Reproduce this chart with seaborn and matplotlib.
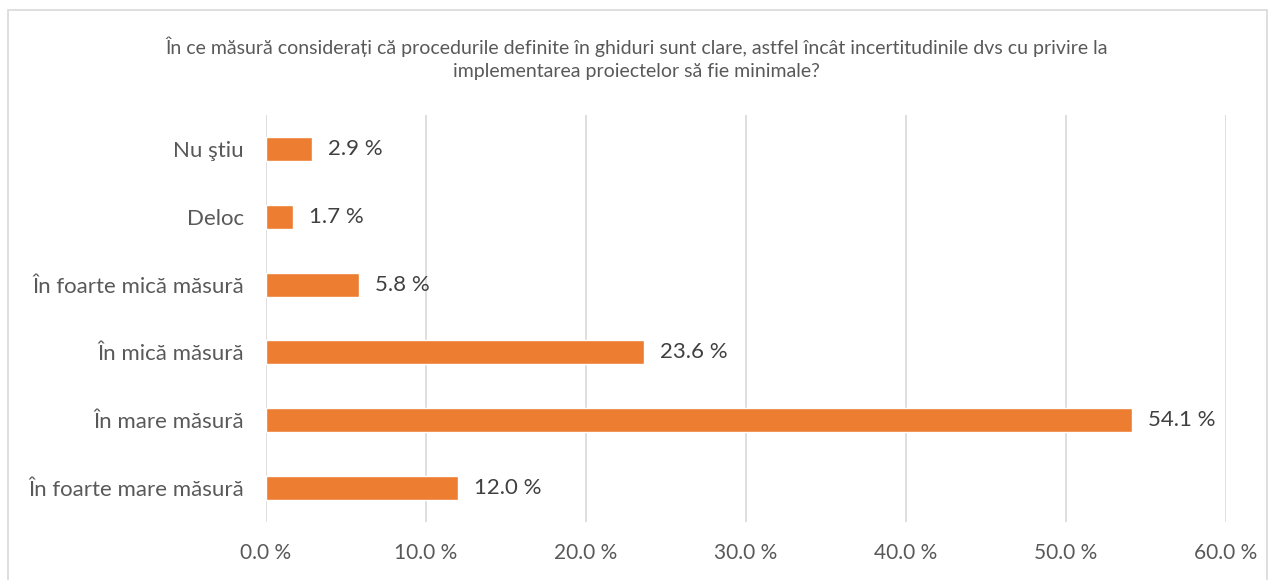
import pandas as pd
import seaborn as sns
import matplotlib.pyplot as plt
from matplotlib.patches import Rectangle

categories = ["Nu ştiu", "Deloc", "În foarte mică măsură", "În mică măsură",
              "În mare măsură", "În foarte mare măsură"]
values = [2.9, 1.7, 5.8, 23.6, 54.1, 12.0]
xticks = [0, 10, 20, 30, 40, 50, 60]

title = ("În ce măsură considerați că procedurile definite în ghiduri sunt clare, astfel încât incertitudinile dvs cu privire la\n"
         "implementarea proiectelor să fie minimale?")

sns.set_style("white")
plt.rcParams['font.family'] = ['Lato', 'DejaVu Sans']
text_col = '#595959'

df = pd.DataFrame({'cat': categories, 'val': values})

fig = plt.figure(figsize=(12.73, 5.80), dpi=100)
ax = fig.add_axes([266 / 1273, 1 - 522 / 580, 960 / 1273, 407 / 580])

sns.barplot(data=df, x='val', y='cat', color='#ED7D31', width=0.355,
            saturation=1, ax=ax, zorder=3)

ax.set_xlim(0, 60)
ax.set_xticks(xticks)
ax.set_xticklabels([f"{t:.1f} %" for t in xticks], fontsize=15, color=text_col)
ax.tick_params(axis='x', length=0, pad=15)
ax.tick_params(axis='y', length=0, pad=16, labelsize=16, labelcolor=text_col)
ax.grid(axis='x', color='#D9D9D9', linewidth=1.2, zorder=0)
ax.set_axisbelow(True)
for s in ax.spines.values():
    s.set_visible(False)
ax.set_xlabel('')
ax.set_ylabel('')

# value labels next to the bars
for i, v in enumerate(values):
    ax.text(v + 1.0, i, f"{v:.1f} %", va='center', ha='left', fontsize=16, color='#404040')

fig.text(0.5, 1 - 58 / 580, title, ha='center', va='center', fontsize=14,
         color=text_col, linespacing=1.45)

fig.patches.append(Rectangle((8 / 1273, -0.01), 1259 / 1273, 1 - 10 / 580 + 0.01,
                             transform=fig.transFigure, fill=False,
                             edgecolor='#D9D9D9', linewidth=1.2))

fig.savefig('out.png', dpi=100)
